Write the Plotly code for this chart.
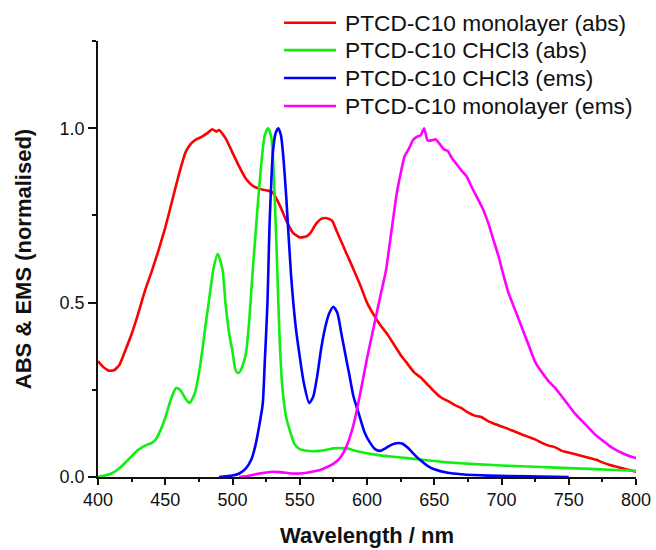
import plotly.graph_objects as go

# ---- data ----
red_x = [400, 404, 408, 412, 416, 420, 425, 430, 435, 440, 445, 450, 455, 460, 465, 469, 473, 477, 481, 485, 488, 490,
         495, 500, 505, 510, 515, 520, 525, 530, 535, 540, 545, 550, 555, 558, 562, 566, 570, 574, 578, 582, 586, 590,
         595, 600, 605, 610, 615, 620, 625, 630, 635, 640, 645, 650, 655, 660, 665, 670, 675, 680, 685, 690, 695, 700,
         705, 710, 715, 720, 725, 730, 735, 740, 745, 750, 755, 760, 765, 770, 775, 780, 785, 790, 795, 800]
red_y = [0.332, 0.315, 0.305, 0.306, 0.322, 0.36, 0.41, 0.47, 0.535, 0.59, 0.65, 0.715, 0.79, 0.865, 0.93, 0.955,
         0.968, 0.975, 0.985, 0.997, 0.99, 0.995, 0.97, 0.93, 0.89, 0.855, 0.835, 0.826, 0.822, 0.815, 0.78, 0.735,
         0.70, 0.687, 0.69, 0.70, 0.725, 0.74, 0.742, 0.735, 0.70, 0.665, 0.63, 0.595, 0.55, 0.50, 0.465, 0.435,
         0.41, 0.38, 0.35, 0.325, 0.30, 0.285, 0.265, 0.245, 0.228, 0.218, 0.207, 0.198, 0.185, 0.176, 0.172, 0.16,
         0.152, 0.145, 0.138, 0.13, 0.122, 0.115, 0.108, 0.098, 0.09, 0.085, 0.075, 0.07, 0.065, 0.06, 0.055, 0.05,
         0.042, 0.035, 0.03, 0.025, 0.02, 0.015]

green_x = [400, 405, 410, 415, 420, 425, 430, 435, 440, 443, 446, 450, 454, 458, 461, 465, 468, 472, 476, 480.5, 483,
           486, 489, 492.5, 495, 498, 500, 502, 504, 506, 508, 510, 512.5, 515, 517, 519, 522, 524, 526.5, 529, 531.4,
           533.5, 535, 537, 540, 542.5, 546, 550, 555, 560, 565, 570, 575, 580, 585, 590, 600, 610, 620, 630, 640,
           650, 660, 680, 700, 720, 740, 760, 780, 800]
green_y = [0.0, 0.004, 0.01, 0.022, 0.04, 0.06, 0.078, 0.09, 0.098, 0.108, 0.13, 0.17, 0.22, 0.255, 0.25, 0.225, 0.212,
           0.24, 0.32, 0.45, 0.52, 0.6, 0.64, 0.596, 0.49, 0.40, 0.36, 0.31, 0.298, 0.305, 0.325, 0.355, 0.45, 0.59,
           0.69, 0.79, 0.92, 0.98, 1.0, 0.97, 0.80, 0.57, 0.40, 0.26, 0.17, 0.135, 0.095, 0.08, 0.075, 0.074, 0.075,
           0.078, 0.082, 0.083, 0.082, 0.077, 0.068, 0.062, 0.058, 0.054, 0.05, 0.046, 0.042, 0.037, 0.033, 0.03,
           0.027, 0.024, 0.021, 0.018]

blue_x = [490, 495, 500, 505, 510, 514, 517, 520, 522.5, 524, 526, 527.5, 529, 530, 532, 534, 536, 537.5, 540, 543.5,
          547, 550, 553, 557, 560, 563, 566, 569, 572, 575, 578, 581, 584, 587, 590, 594, 598, 602, 606, 610, 614,
          618, 622, 626, 630, 635, 640, 645, 650, 660, 670, 690, 720, 750]
blue_y = [0.0, 0.002, 0.004, 0.01, 0.025, 0.05, 0.09, 0.15, 0.21, 0.33, 0.50, 0.72, 0.86, 0.93, 0.985, 1.0, 0.98, 0.93,
          0.80, 0.58, 0.43, 0.345, 0.27, 0.212, 0.23, 0.29, 0.37, 0.43, 0.47, 0.488, 0.47, 0.41, 0.35, 0.29, 0.23,
          0.18, 0.13, 0.10, 0.08, 0.075, 0.083, 0.092, 0.097, 0.096, 0.085, 0.065, 0.047, 0.032, 0.022, 0.012, 0.008,
          0.004, 0.002, 0.0]

mag_x = [505, 510, 515, 520, 525, 530, 535, 540, 545, 550, 555, 560, 565, 570, 575, 580, 585, 590, 595, 600, 605, 610,
         614, 618, 622, 625, 628, 631, 634, 637, 640, 642.5, 645, 648, 651, 654, 657, 660, 663, 666, 670, 674, 678,
         682, 686, 690, 694, 698, 701, 705, 710, 715, 720, 725, 730, 735, 740, 745, 750, 755, 760, 765, 770, 775,
         780, 785, 790, 795, 800]
mag_y = [0.0, 0.002, 0.006, 0.01, 0.013, 0.015, 0.014, 0.012, 0.01, 0.01, 0.012, 0.016, 0.02, 0.028, 0.038, 0.055,
         0.09, 0.15, 0.24, 0.34, 0.43, 0.52, 0.59, 0.70, 0.81, 0.87, 0.92, 0.94, 0.965, 0.975, 0.98, 1.0, 0.965,
         0.965, 0.968, 0.955, 0.94, 0.935, 0.915, 0.9, 0.88, 0.862, 0.83, 0.80, 0.77, 0.73, 0.68, 0.63, 0.585, 0.53,
         0.48, 0.43, 0.38, 0.33, 0.30, 0.275, 0.255, 0.23, 0.205, 0.18, 0.16, 0.14, 0.12, 0.105, 0.09, 0.078, 0.068,
         0.06, 0.054]

names = ["PTCD-C10 monolayer (abs)", "PTCD-C10 CHCl3 (abs)", "PTCD-C10 CHCl3 (ems)", "PTCD-C10 monolayer (ems)"]
colors = ["#ff0000", "#11ee11", "#0000ff", "#ff00ff"]
series = [(red_x, red_y), (green_x, green_y), (blue_x, blue_y), (mag_x, mag_y)]
smooth = [0.5, 0.6, 0.6, 0.5]

FONT = "Liberation Sans, Arial, sans-serif"

fig = go.Figure()
for (xs, ys), n, c, sm in zip(series, names, colors, smooth):
    fig.add_trace(go.Scatter(x=xs, y=ys, mode="lines", name=n,
                             line=dict(color=c, width=2.6, shape="spline", smoothing=sm), showlegend=False))

# manual legend (layout decoration)
leg_y = [1.042, 0.979, 0.915, 0.851]
for n, c, ly in zip(names, colors, leg_y):
    fig.add_shape(type="line", xref="paper", yref="paper", x0=0.3457, x1=0.4424, y0=ly, y1=ly,
                  line=dict(color=c, width=2.6))
    fig.add_annotation(xref="paper", yref="paper", x=0.4554, y=ly, text=n, showarrow=False,
                       xanchor="left", yanchor="middle", font=dict(family=FONT, size=22.7, color="#111"))

fig.update_layout(
    width=656, height=550,
    margin=dict(l=98, r=20, t=41, b=73),
    paper_bgcolor="white", plot_bgcolor="white",
    font=dict(family=FONT, color="#111"),
    xaxis=dict(range=[400, 800], dtick=50, tick0=400, ticks="outside", ticklen=6, tickwidth=1.5,
               tickcolor="#111", showline=True, linecolor="#111", linewidth=1.5, showgrid=False,
               zeroline=False, tickfont=dict(size=18), automargin=False,
               minor=dict(dtick=25, ticks="outside", ticklen=3, tickwidth=1.5, tickcolor="#111", showgrid=False),
               title=dict(text="<b>Wavelength / nm</b>", font=dict(size=22), standoff=18)),
    yaxis=dict(range=[0, 1.25], dtick=0.5, tick0=0, tickformat=".1f", ticks="outside", ticklen=8,
               tickwidth=1.5, tickcolor="#111", showline=True, linecolor="#111", linewidth=1.5,
               showgrid=False, zeroline=False, tickfont=dict(size=18), automargin=False,
               minor=dict(dtick=0.25, ticks="outside", ticklen=4, tickwidth=1.5, tickcolor="#111", showgrid=False),
               title=dict(text="<b>ABS &amp; EMS (normalised)</b>", font=dict(size=22), standoff=22)),
)

fig.write_html("out.html")
